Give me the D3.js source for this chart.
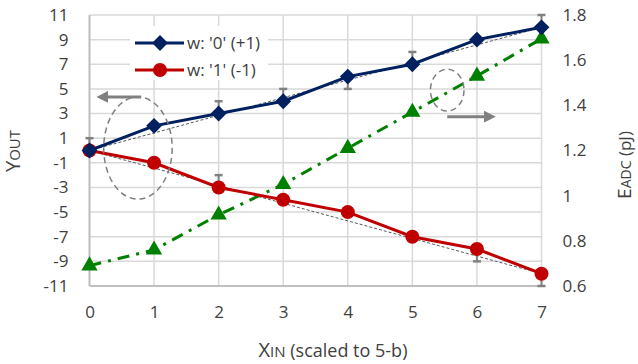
<!DOCTYPE html>
<html>
<head>
<meta charset="utf-8">
<script src="https://cdn.jsdelivr.net/npm/d3@7"></script>
<style>
  body { margin: 0; background: #fff; }
  svg text { font-family: "Open Sans", sans-serif; fill: #404040; }
</style>
</head>
<body>
<svg id="chart" width="638" height="364"></svg>
<script>
// data
const xIn = [0, 1, 2, 3, 4, 5, 6, 7];
const wZero = [0, 2, 3, 4, 6, 7, 9, 10];
const wOne = [0, -1, -3, -4, -5, -7, -8, -10];
const eAdc = [0.69, 0.76, 0.915, 1.05, 1.21, 1.37, 1.53, 1.695];
const wZeroErrUp = [1, 0, 1, 1, 0, 1, 0, 1];
const wZeroErrDown = [0, 0, 0, 0, 1, 0, 0, 0];
const wOneErrUp = [0, 0, 1, 0, 0, 0, 0, 0];
const wOneErrDown = [0, 0, 0, 0, 0, 0, 1, 1];
const idealZero = [[0, 0], [7, 10]];
const idealOne = [[0, 0], [7, -10]];
const leftTicks = [11, 9, 7, 5, 3, 1, -1, -3, -5, -7, -9, -11];
const rightTicks = [0.6, 0.8, 1, 1.2, 1.4, 1.6, 1.8];
const legendLabels = ["w: '0' (+1)", "w: '1' (-1)"];

let svg = d3.select('#chart'),
    plot = {left: 89.5, right: 541.5, top: 15, bottom: 286},
    navy = '#002060', red = '#c00000', green = '#008000', grey = '#808080';

let x = d3.scaleLinear().domain([0, 7]).range([plot.left, plot.right]),
    yL = d3.scaleLinear().domain([-11, 11]).range([plot.bottom, plot.top]),
    yR = d3.scaleLinear().domain([0.6, 1.8]).range([plot.bottom, plot.top]);

// grid
let grid = svg.append('g');
grid.selectAll('.vg').data(xIn).enter().append('line')
    .attr('x1', d => x(d)).attr('x2', d => x(d))
    .attr('y1', plot.top).attr('y2', plot.bottom)
    .attr('stroke', '#d9d9d9').attr('stroke-width', 1.5);
grid.selectAll('.hg').data(leftTicks).enter().append('line')
    .attr('x1', plot.left).attr('x2', plot.right)
    .attr('y1', d => yL(d)).attr('y2', d => yL(d))
    .attr('stroke', '#d9d9d9').attr('stroke-width', 1.5);
grid.append('line').attr('x1', plot.left).attr('x2', plot.left)
    .attr('y1', plot.top).attr('y2', plot.bottom).attr('stroke', '#bfbfbf').attr('stroke-width', 2);
grid.append('line').attr('x1', plot.left).attr('x2', plot.right)
    .attr('y1', plot.bottom).attr('y2', plot.bottom).attr('stroke', '#bfbfbf').attr('stroke-width', 2);

// axes (labels only)
let axL = svg.append('g').attr('transform', 'translate(' + plot.left + ',0)')
    .call(d3.axisLeft(yL).tickValues(leftTicks).tickSize(0).tickPadding(21).tickFormat(d => String(d)));
let axR = svg.append('g').attr('transform', 'translate(' + plot.right + ',0)')
    .call(d3.axisRight(yR).tickValues(rightTicks).tickSize(0).tickPadding(21).tickFormat(d => String(d)));
let axB = svg.append('g').attr('transform', 'translate(0,' + plot.bottom + ')')
    .call(d3.axisBottom(x).tickValues(xIn).tickSize(0).tickPadding(20).tickFormat(d => String(d)));
[axL, axR, axB].forEach(a => {
    a.select('.domain').remove();
    a.selectAll('text').style('font-size', '17px').style('font-family', '"Open Sans", sans-serif').attr('fill', '#404040');
});

// ideal dashed lines
let line = d3.line().x(d => x(d[0])).y(d => yL(d[1]));
[idealZero, idealOne].forEach(p => {
    svg.append('path').attr('d', line(p)).attr('fill', 'none')
        .attr('stroke', '#595959').attr('stroke-width', 1).attr('stroke-dasharray', '3,2');
});

// green energy series
let gLine = d3.line().x((d, i) => x(xIn[i])).y(d => yR(d));
svg.append('path').attr('d', gLine(eAdc)).attr('fill', 'none')
    .attr('stroke', green).attr('stroke-width', 3).attr('stroke-dasharray', '12,7,3,7');
svg.selectAll('.tri').data(eAdc).enter().append('path')
    .attr('d', d3.symbol().type(d3.symbolTriangle).size(115))
    .attr('transform', (d, i) => 'translate(' + x(xIn[i]) + ',' + yR(d) + ')')
    .attr('fill', green);

// error bars
function errorBars(vals, up, down) {
    let g = svg.append('g').attr('stroke', grey).attr('stroke-width', 2);
    vals.forEach((v, i) => {
        [[up[i], 1], [down[i], -1]].forEach(e => {
            if (!e[0]) return;
            let ye = yL(v + e[0] * e[1]);
            g.append('line').attr('x1', x(xIn[i])).attr('x2', x(xIn[i]))
                .attr('y1', yL(v)).attr('y2', ye);
            g.append('line').attr('x1', x(xIn[i]) - 4).attr('x2', x(xIn[i]) + 4)
                .attr('y1', ye).attr('y2', ye).attr('stroke-width', 2.5);
        });
    });
}
errorBars(wZero, wZeroErrUp, wZeroErrDown);
errorBars(wOne, wOneErrUp, wOneErrDown);

// main series
let yLine = d3.line().x((d, i) => x(xIn[i])).y(d => yL(d));
svg.append('path').attr('d', yLine(wOne)).attr('fill', 'none').attr('stroke', red).attr('stroke-width', 3);
svg.selectAll('.dot').data(wOne).enter().append('circle')
    .attr('cx', (d, i) => x(xIn[i])).attr('cy', d => yL(d)).attr('r', 7).attr('fill', red);
svg.append('path').attr('d', yLine(wZero)).attr('fill', 'none').attr('stroke', navy).attr('stroke-width', 3);
svg.selectAll('.dia').data(wZero).enter().append('path')
    .attr('d', d3.symbol().type(d3.symbolDiamond2).size(160))
    .attr('transform', (d, i) => 'translate(' + x(xIn[i]) + ',' + yL(d) + ')')
    .attr('fill', navy);

// annotations: dashed ellipses + arrows
svg.append('defs').append('marker').attr('id', 'arr')
    .attr('viewBox', '0 0 10 10').attr('refX', 5).attr('refY', 5)
    .attr('markerWidth', 4).attr('markerHeight', 4).attr('orient', 'auto-start-reverse')
    .append('path').attr('d', 'M0,0L10,5L0,10z').attr('fill', grey);
let notes = [
    {cx: 0.75, cy: 0.2, rx: 0.53, ry: 4.15, ax1: 0.8, ax2: 0.2, ay: 4.35},
    {cx: 5.54, cy: 4.9, rx: 0.26, ry: 1.7, ax1: 5.54, ax2: 6.2, ay: 2.75}
];
notes.forEach(n => {
    svg.append('ellipse').attr('cx', x(n.cx)).attr('cy', yL(n.cy))
        .attr('rx', x(n.cx + n.rx) - x(n.cx)).attr('ry', yL(n.cy - n.ry) - yL(n.cy))
        .attr('fill', 'none').attr('stroke', grey).attr('stroke-width', 1.5).attr('stroke-dasharray', '6,4');
    svg.append('line').attr('x1', x(n.ax1)).attr('x2', x(n.ax2))
        .attr('y1', yL(n.ay)).attr('y2', yL(n.ay))
        .attr('stroke', grey).attr('stroke-width', 3).attr('marker-end', 'url(#arr)');
});

// legend
let legend = svg.append('g');
legend.append('rect').attr('x', 130).attr('y', 26).attr('width', 138).attr('height', 54).attr('fill', '#fff');
[[navy, 'dia'], [red, 'dot']].forEach((s, i) => {
    let ly = 43 + i * 27;
    legend.append('line').attr('x1', 135).attr('x2', 184).attr('y1', ly).attr('y2', ly)
        .attr('stroke', s[0]).attr('stroke-width', 3);
    if (s[1] == 'dia') {
        legend.append('path').attr('d', d3.symbol().type(d3.symbolDiamond2).size(160))
            .attr('transform', 'translate(160,' + ly + ')').attr('fill', s[0]);
    } else {
        legend.append('circle').attr('cx', 160).attr('cy', ly).attr('r', 7).attr('fill', s[0]);
    }
    legend.append('text').attr('x', 187).attr('y', ly + 6).style('font-size', '17px').text(legendLabels[i]);
});

// axis titles
let tY = svg.append('text').attr('transform', 'translate(20,151) rotate(-90)').attr('text-anchor', 'middle');
tY.append('tspan').style('font-size', '20px').text('Y');
tY.append('tspan').style('font-size', '15px').text('OUT');

let tX = svg.append('text').attr('x', 333).attr('y', 357).attr('text-anchor', 'middle');
tX.append('tspan').style('font-size', '20px').text('X');
tX.append('tspan').style('font-size', '15px').text('IN');
tX.append('tspan').style('font-size', '18px').text(' (scaled to 5-b)');

let tR = svg.append('text').attr('transform', 'translate(631,165) rotate(-90)').attr('text-anchor', 'middle');
tR.append('tspan').style('font-size', '19px').text('E');
tR.append('tspan').style('font-size', '14px').text('ADC');
tR.append('tspan').style('font-size', '17px').text(' (pJ)');
</script>
</body>
</html>
